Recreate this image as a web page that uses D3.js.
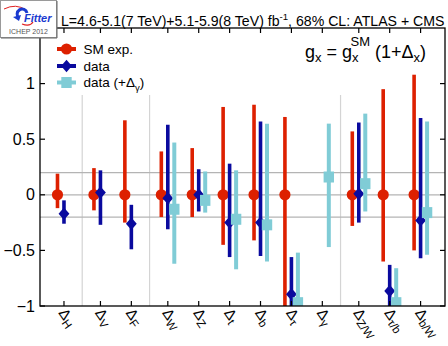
<!DOCTYPE html>
<html>
<head>
<meta charset="UTF-8">
<title>Higgs couplings fit</title>
<script src="https://cdn.jsdelivr.net/npm/d3@7"></script>
<style>
  body { margin: 0; background: #fff; }
  svg { font-family: "Liberation Sans", Arial, sans-serif; }
</style>
</head>
<body>
<div id="chart"></div>
<script>
// categories and group index (groups are separated by a thin vertical line)
var cats   = ["H", "V", "F", "W", "Z", "t", "b", "τ", "γ", "Z/W", "τ/b", "b/W"];
var groups = [0, 1, 1, 2, 2, 2, 2, 2, 2, 3, 3, 3];

// SM expectation: centred on 0, asymmetric errors
var smLo = [-0.12, -0.14, -0.25, -0.20, -0.20, -0.45, -0.41, -1.10, null, -0.28, -0.60, -0.50];
var smHi = [ 0.19,  0.24,  0.67,  0.39,  0.42,  0.79,  0.81,  0.70, null,  0.57,  0.95,  1.08];

// data fit
var dataC  = [-0.17,  0.02, -0.26, -0.03,  0.00, -0.25, -0.25, -0.895, null,  0.01, -0.865, -0.23];
var dataLo = [-0.26, -0.27, -0.49, -0.31, -0.15, -0.56, -0.55, -1.10,  null, -0.25, -1.10,  -0.57];
var dataHi = [-0.05,  0.22, -0.09,  0.63,  0.23,  0.28,  0.66, -0.56,  null,  0.65, -0.63,   0.69];

// data fit with Delta_gamma free
var gamC  = [null, null, null, -0.13, -0.05, -0.22, -0.27, -0.97,  0.16,  0.10, -0.97, -0.16];
var gamLo = [null, null, null, -0.62, -0.16, -0.67, -0.60, -1.10, -0.47, -0.15, -1.10, -0.54];
var gamHi = [null, null, null,  0.47,  0.21,  0.22,  0.64, -0.52,  0.64,  0.73, -0.66,  0.66];

var yTicks = [1, 0.5, 0, -0.5, -1];
var hLines = [0.2, 0, -0.2];

var W = 448, H = 346;
var L = 40, R = 445, T = 28, B = 306;

var red = "#dd2000", blue = "#0a0a9e", cyan = "#80ccd6";

var pos = cats.map(function (c, i) { return i + 0.18 * groups[i]; });

var x = d3.scaleLinear().domain([-0.776, 12.33]).range([L, R]);
var y = d3.scaleLinear().domain([-1, 1.5]).range([B, T]);

var svg = d3.select("#chart").append("svg")
  .attr("width", W).attr("height", H);

svg.append("defs").append("clipPath").attr("id", "plot")
  .append("rect").attr("x", L).attr("y", T).attr("width", R - L).attr("height", B - T);

// group separators
var seps = [];
for (var i = 1; i < cats.length; i++) {
  if (groups[i] !== groups[i - 1]) seps.push((pos[i] + pos[i - 1]) / 2);
}
svg.selectAll(".sep").data(seps).enter().append("line")
  .attr("x1", function (d) { return x(d); }).attr("x2", function (d) { return x(d); })
  .attr("y1", 95).attr("y2", B)
  .attr("stroke", "#d4d4d4").attr("stroke-width", 1.2);

// reference lines
svg.selectAll(".hl").data(hLines).enter().append("line")
  .attr("x1", L).attr("x2", R)
  .attr("y1", function (d) { return y(d); }).attr("y2", function (d) { return y(d); })
  .attr("stroke", "#b4b4b4").attr("stroke-width", 1.2);

var plot = svg.append("g").attr("clip-path", "url(#plot)");

var off = 0.21;

function bars(cls, lo, hi, dx, col, w) {
  var idx = cats.map(function (d, i) { return i; }).filter(function (i) { return lo[i] !== null; });
  plot.selectAll("." + cls).data(idx).enter().append("line")
    .attr("x1", function (i) { return x(pos[i] + dx); })
    .attr("x2", function (i) { return x(pos[i] + dx); })
    .attr("y1", function (i) { return y(lo[i]); })
    .attr("y2", function (i) { return y(hi[i]); })
    .attr("stroke", col).attr("stroke-width", w);
  return idx;
}

// SM exp.
var iSM = bars("smb", smLo, smHi, -off, red, 3.6);
plot.selectAll(".smm").data(iSM).enter().append("circle")
  .attr("cx", function (i) { return x(pos[i] - off); })
  .attr("cy", y(0)).attr("r", 5.6).attr("fill", red);

// data
var iD = bars("db", dataLo, dataHi, 0, blue, 3.6);
plot.selectAll(".dm").data(iD).enter().append("path")
  .attr("transform", function (i) { return "translate(" + x(pos[i]) + "," + y(dataC[i]) + ")"; })
  .attr("d", "M0,-6.2L5.4,0L0,6.2L-5.4,0Z").attr("fill", blue);

// data (+Delta_gamma)
var iG = bars("gb", gamLo, gamHi, off, cyan, 4);
plot.selectAll(".gm").data(iG).enter().append("rect")
  .attr("x", function (i) { return x(pos[i] + off) - 5.2; })
  .attr("y", function (i) { return y(gamC[i]) - 5.5; })
  .attr("width", 10.4).attr("height", 11).attr("fill", cyan);

// frame
svg.append("rect").attr("x", L).attr("y", T).attr("width", R - L).attr("height", B - T)
  .attr("fill", "none").attr("stroke", "#000").attr("stroke-width", 1.3);

// x ticks top and bottom
svg.selectAll(".xtb").data(pos).enter().append("line")
  .attr("x1", function (d) { return x(d); }).attr("x2", function (d) { return x(d); })
  .attr("y1", B).attr("y2", B - 5).attr("stroke", "#000").attr("stroke-width", 1.2);
svg.selectAll(".xtt").data(pos).enter().append("line")
  .attr("x1", function (d) { return x(d); }).attr("x2", function (d) { return x(d); })
  .attr("y1", T).attr("y2", T + 5).attr("stroke", "#000").attr("stroke-width", 1.2);

// y ticks left and right
svg.selectAll(".ytl").data(yTicks).enter().append("line")
  .attr("x1", L).attr("x2", L + 5)
  .attr("y1", function (d) { return y(d); }).attr("y2", function (d) { return y(d); })
  .attr("stroke", "#000").attr("stroke-width", 1.2);
svg.selectAll(".ytr").data(yTicks).enter().append("line")
  .attr("x1", R).attr("x2", R - 5)
  .attr("y1", function (d) { return y(d); }).attr("y2", function (d) { return y(d); })
  .attr("stroke", "#000").attr("stroke-width", 1.2);

svg.selectAll(".yl").data(yTicks).enter().append("text")
  .attr("x", 35).attr("y", function (d) { return y(d) + 5.5; })
  .attr("text-anchor", "end").attr("font-size", 16)
  .text(function (d) { return d3.format("")(d); });

// x labels, rotated
var xl = svg.selectAll(".xl").data(cats).enter().append("text")
  .attr("transform", function (d, i) { return "translate(" + (x(pos[i]) - 6) + ",313) rotate(55)"; })
  .attr("font-size", 15);
xl.append("tspan").text("Δ");
xl.append("tspan").attr("font-size", 11.5).attr("dy", 3).text(function (d) { return d; });

// header, three pieces placed side by side, shrunk to fit between x=61 and x=445
var hParts = [
  { t: "L=4.6-5.1(7 TeV)+5.1-5.9(8 TeV) fb", s: 1, dy: 0 },
  { t: "-1", s: 0.68, dy: -6 },
  { t: ", 68% CL: ATLAS + CMS", s: 1, dy: 0 }
];
var hSize = 15;
var hNodes = hParts.map(function (p) {
  return svg.append("text").attr("y", 26 + p.dy).attr("font-size", hSize * p.s).text(p.t);
});
var hTot = d3.sum(hNodes, function (n) { return n.node().getComputedTextLength(); });
var k = Math.min(1, 384 / hTot);
var hx = 61;
hNodes.forEach(function (n, j) {
  n.attr("font-size", hSize * hParts[j].s * k).attr("x", hx);
  hx += n.node().getComputedTextLength();
});

// formula
var f = svg.append("text").attr("x", 305).attr("y", 58).attr("font-size", 18);
f.append("tspan").text("g");
f.append("tspan").attr("dy", 4).attr("font-size", 13).text("x");
f.append("tspan").attr("dy", -4).text(" = g");
f.append("tspan").attr("dy", 4).attr("font-size", 13).text("x");
f.append("tspan").attr("dy", -16).attr("dx", -8).attr("font-size", 13).text("SM");
f.append("tspan").attr("dy", 12).text(" (1+Δ");
f.append("tspan").attr("dy", 4).attr("font-size", 13).text("x");
f.append("tspan").attr("dy", -4).text(")");

// legend
var legY = [49, 66, 82.5];
var legCol = [red, blue, cyan];
var legTxt = ["SM exp.", "data", "data (+Δ"];
svg.selectAll(".lgl").data(legY).enter().append("line")
  .attr("x1", 57).attr("x2", 76)
  .attr("y1", function (d) { return d; }).attr("y2", function (d) { return d; })
  .attr("stroke", function (d, i) { return legCol[i]; }).attr("stroke-width", 4);
svg.append("circle").attr("cx", 66.5).attr("cy", legY[0]).attr("r", 5.6).attr("fill", red);
svg.append("path").attr("transform", "translate(66.5," + legY[1] + ")")
  .attr("d", "M0,-6.2L5.4,0L0,6.2L-5.4,0Z").attr("fill", blue);
svg.append("rect").attr("x", 61.3).attr("y", legY[2] - 5.5).attr("width", 10.4).attr("height", 11).attr("fill", cyan);
var lt = svg.selectAll(".lt").data(legTxt).enter().append("text")
  .attr("x", 83.5).attr("y", function (d, i) { return legY[i] + 4.8; })
  .attr("font-size", 13.5).text(function (d) { return d; });
d3.select(lt.nodes()[2]).append("tspan").attr("dy", 3.5).attr("font-size", 9.5).text("γ");
d3.select(lt.nodes()[2]).append("tspan").attr("dy", -3.5).text(")");

// logo
var lg = svg.append("g");
lg.append("rect").attr("x", 0.5).attr("y", 0.5).attr("width", 56).attr("height", 37)
  .attr("fill", "#fff").attr("stroke", "#9a9a9a");
lg.append("line").attr("x1", 1).attr("x2", 57).attr("y1", 38).attr("y2", 38).attr("stroke", "#666");
lg.append("line").attr("x1", 57).attr("x2", 57).attr("y1", 1).attr("y2", 38).attr("stroke", "#666");
lg.append("path").attr("d", "M4,9 Q16,3 26,10").attr("fill", "none").attr("stroke", "#e02020").attr("stroke-width", 1);
lg.append("path").attr("d", "M22,24 Q30,27 33,22").attr("fill", "none").attr("stroke", "#e02020").attr("stroke-width", 1.2);
lg.append("path").attr("d", "M27,13 A5,5 0 1 0 19,18").attr("fill", "none").attr("stroke", "#1a3ad0").attr("stroke-width", 3);
lg.append("path").attr("d", "M13,17 L21,15 L19,21 Z").attr("fill", "#1a3ad0");
lg.append("text").attr("x", 24).attr("y", 22).attr("font-size", 11).attr("font-weight", "bold")
  .attr("font-style", "italic").attr("fill", "#1a3ad0").text("Fitter");
lg.append("text").attr("x", 28.5).attr("y", 34).attr("font-size", 7).attr("text-anchor", "middle")
  .attr("fill", "#555").text("ICHEP 2012");
</script>
</body>
</html>
